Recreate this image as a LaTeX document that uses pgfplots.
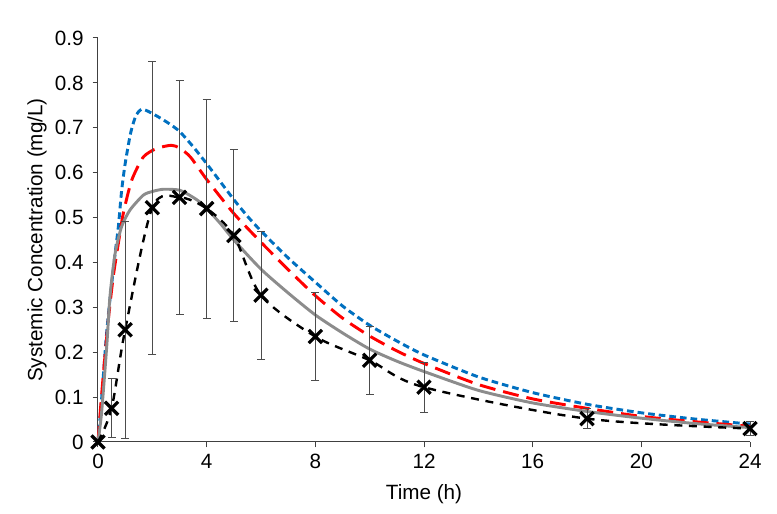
\documentclass[border=0pt]{standalone}
\usepackage{fontspec}
\setmainfont{Liberation Sans}
\usepackage{pgfplots}
\pgfplotsset{compat=1.18}
\usetikzlibrary{calc}

\definecolor{obsblue}{HTML}{0070C0}
\definecolor{modred}{HTML}{FF0000}
\definecolor{modgray}{HTML}{8C8C8C}
\definecolor{axgray}{HTML}{404040}

\newcommand{\chartfont}{\fontsize{15.5}{18}\selectfont}

\begin{document}
\begin{tikzpicture}
\begin{axis}[
  name=ax,
  scale only axis,
  width=489pt, height=303pt,
  xmin=0, xmax=24, ymin=0, ymax=0.9,
  axis lines*=left,
  axis line style={axgray, line width=0.75pt},
  xtick={0,4,...,24},
  ytick={0,0.1,...,0.9},
  yticklabels={0,0.1,0.2,0.3,0.4,0.5,0.6,0.7,0.8,0.9},
  tick align=outside,
  major tick length=4pt,
  tick style={axgray, line width=0.75pt},
  minor tick num=0,
  /pgf/number format/assume math mode=true,
  tick label style={font=\chartfont},
  yticklabel style={xshift=-3.2pt},
  xticklabel style={yshift=-1.5pt},
  label style={font=\chartfont},
  xlabel={Time (h)},
  ylabel={Systemic Concentration (mg/L)},
  xlabel style={at={(rel axis cs:0.5,0)}, anchor=center, yshift=-39pt},
  ylabel style={at={(rel axis cs:0,0.5)}, anchor=center, yshift=45.75pt},
  clip=false,
]

% model 1 (blue short dash)
\addplot[obsblue, line width=2.2pt, dash pattern=on 5pt off 3pt, smooth, tension=0.4, mark=none]
coordinates {
(0,0) (0.1,0.07) (0.2,0.15) (0.3,0.23) (0.4,0.295) (0.5,0.35) (0.63,0.42)
(0.75,0.48) (0.87,0.56) (1.0,0.62) (1.2,0.688) (1.4,0.728) (1.6,0.741)
(1.8,0.738) (2.2,0.725) (2.6,0.71) (3,0.692) (3.5,0.658) (4,0.62) (4.5,0.58)
(5,0.54) (5.5,0.503) (6,0.47) (7,0.41) (8,0.356) (9,0.303) (10,0.26) (11,0.225)
(12,0.194) (14,0.145) (16,0.11) (18,0.084) (20,0.065) (22,0.051) (24,0.04)
};

% model 2 (red long dash)
\addplot[modred, line width=2.2pt, dash pattern=on 12pt off 6pt, smooth, tension=0.4, mark=none]
coordinates {
(0,0) (0.1,0.08) (0.2,0.153) (0.38,0.272) (0.56,0.368) (0.75,0.443)
(0.93,0.509) (1.24,0.583) (1.67,0.635) (2.16,0.654) (2.7,0.661) (3.0,0.655)
(3.4,0.635) (4,0.585) (5,0.509) (6,0.445) (7,0.384) (8,0.326) (9,0.276)
(10,0.236) (11,0.203) (12,0.175) (14,0.128) (16,0.096) (18,0.075)
(20,0.057) (22,0.045) (24,0.035)
};

% model 3 (gray solid)
\addplot[modgray, line width=2.2pt, smooth, tension=0.4, mark=none]
coordinates {
(0,0) (0.13,0.064) (0.32,0.212) (0.44,0.324) (0.63,0.42) (0.87,0.48)
(1.18,0.517) (1.67,0.55) (2.0,0.558) (2.4,0.563) (3.0,0.561) (3.5,0.545)
(3.88,0.528) (4.5,0.487) (5,0.45) (6,0.385) (7,0.332) (8,0.283) (9,0.243)
(10,0.207) (11,0.18) (12,0.157) (14,0.115) (16,0.087) (18,0.068)
(20,0.053) (22,0.041) (24,0.032)
};

% observed mean +- SD
\addplot[black, line width=1.8pt, dash pattern=on 6pt off 5pt, smooth, tension=0.5,
  mark=x, mark size=7pt, mark options={solid, line width=2.4pt},
  error bars/.cd, y dir=both, y explicit,
  error bar style={black!70, line width=0.75pt, solid},
  error mark options={black!70, line width=0.75pt, mark size=3pt, solid, rotate=90}]
coordinates {
(0,0) +- (0,0)
(0.5,0.075) +- (0,0.066)
(1,0.25) +- (0,0.242)
(2,0.522) +- (0,0.326)
(3,0.545) +- (0,0.26)
(4,0.52) +- (0,0.244)
(5,0.46) +- (0,0.192)
(6,0.327) +- (0,0.143)
(8,0.235) +- (0,0.097)
(10,0.182) +- (0,0.076)
(12,0.122) +- (0,0.056)
(18,0.052) +- (0,0.023)
(24,0.03) +- (0,0.016)
};

\end{axis}
\path ([shift={(-73.5pt,-54pt)}]ax.south west) rectangle ([shift={(20.25pt,28.5pt)}]ax.north east);
\end{tikzpicture}
\end{document}
